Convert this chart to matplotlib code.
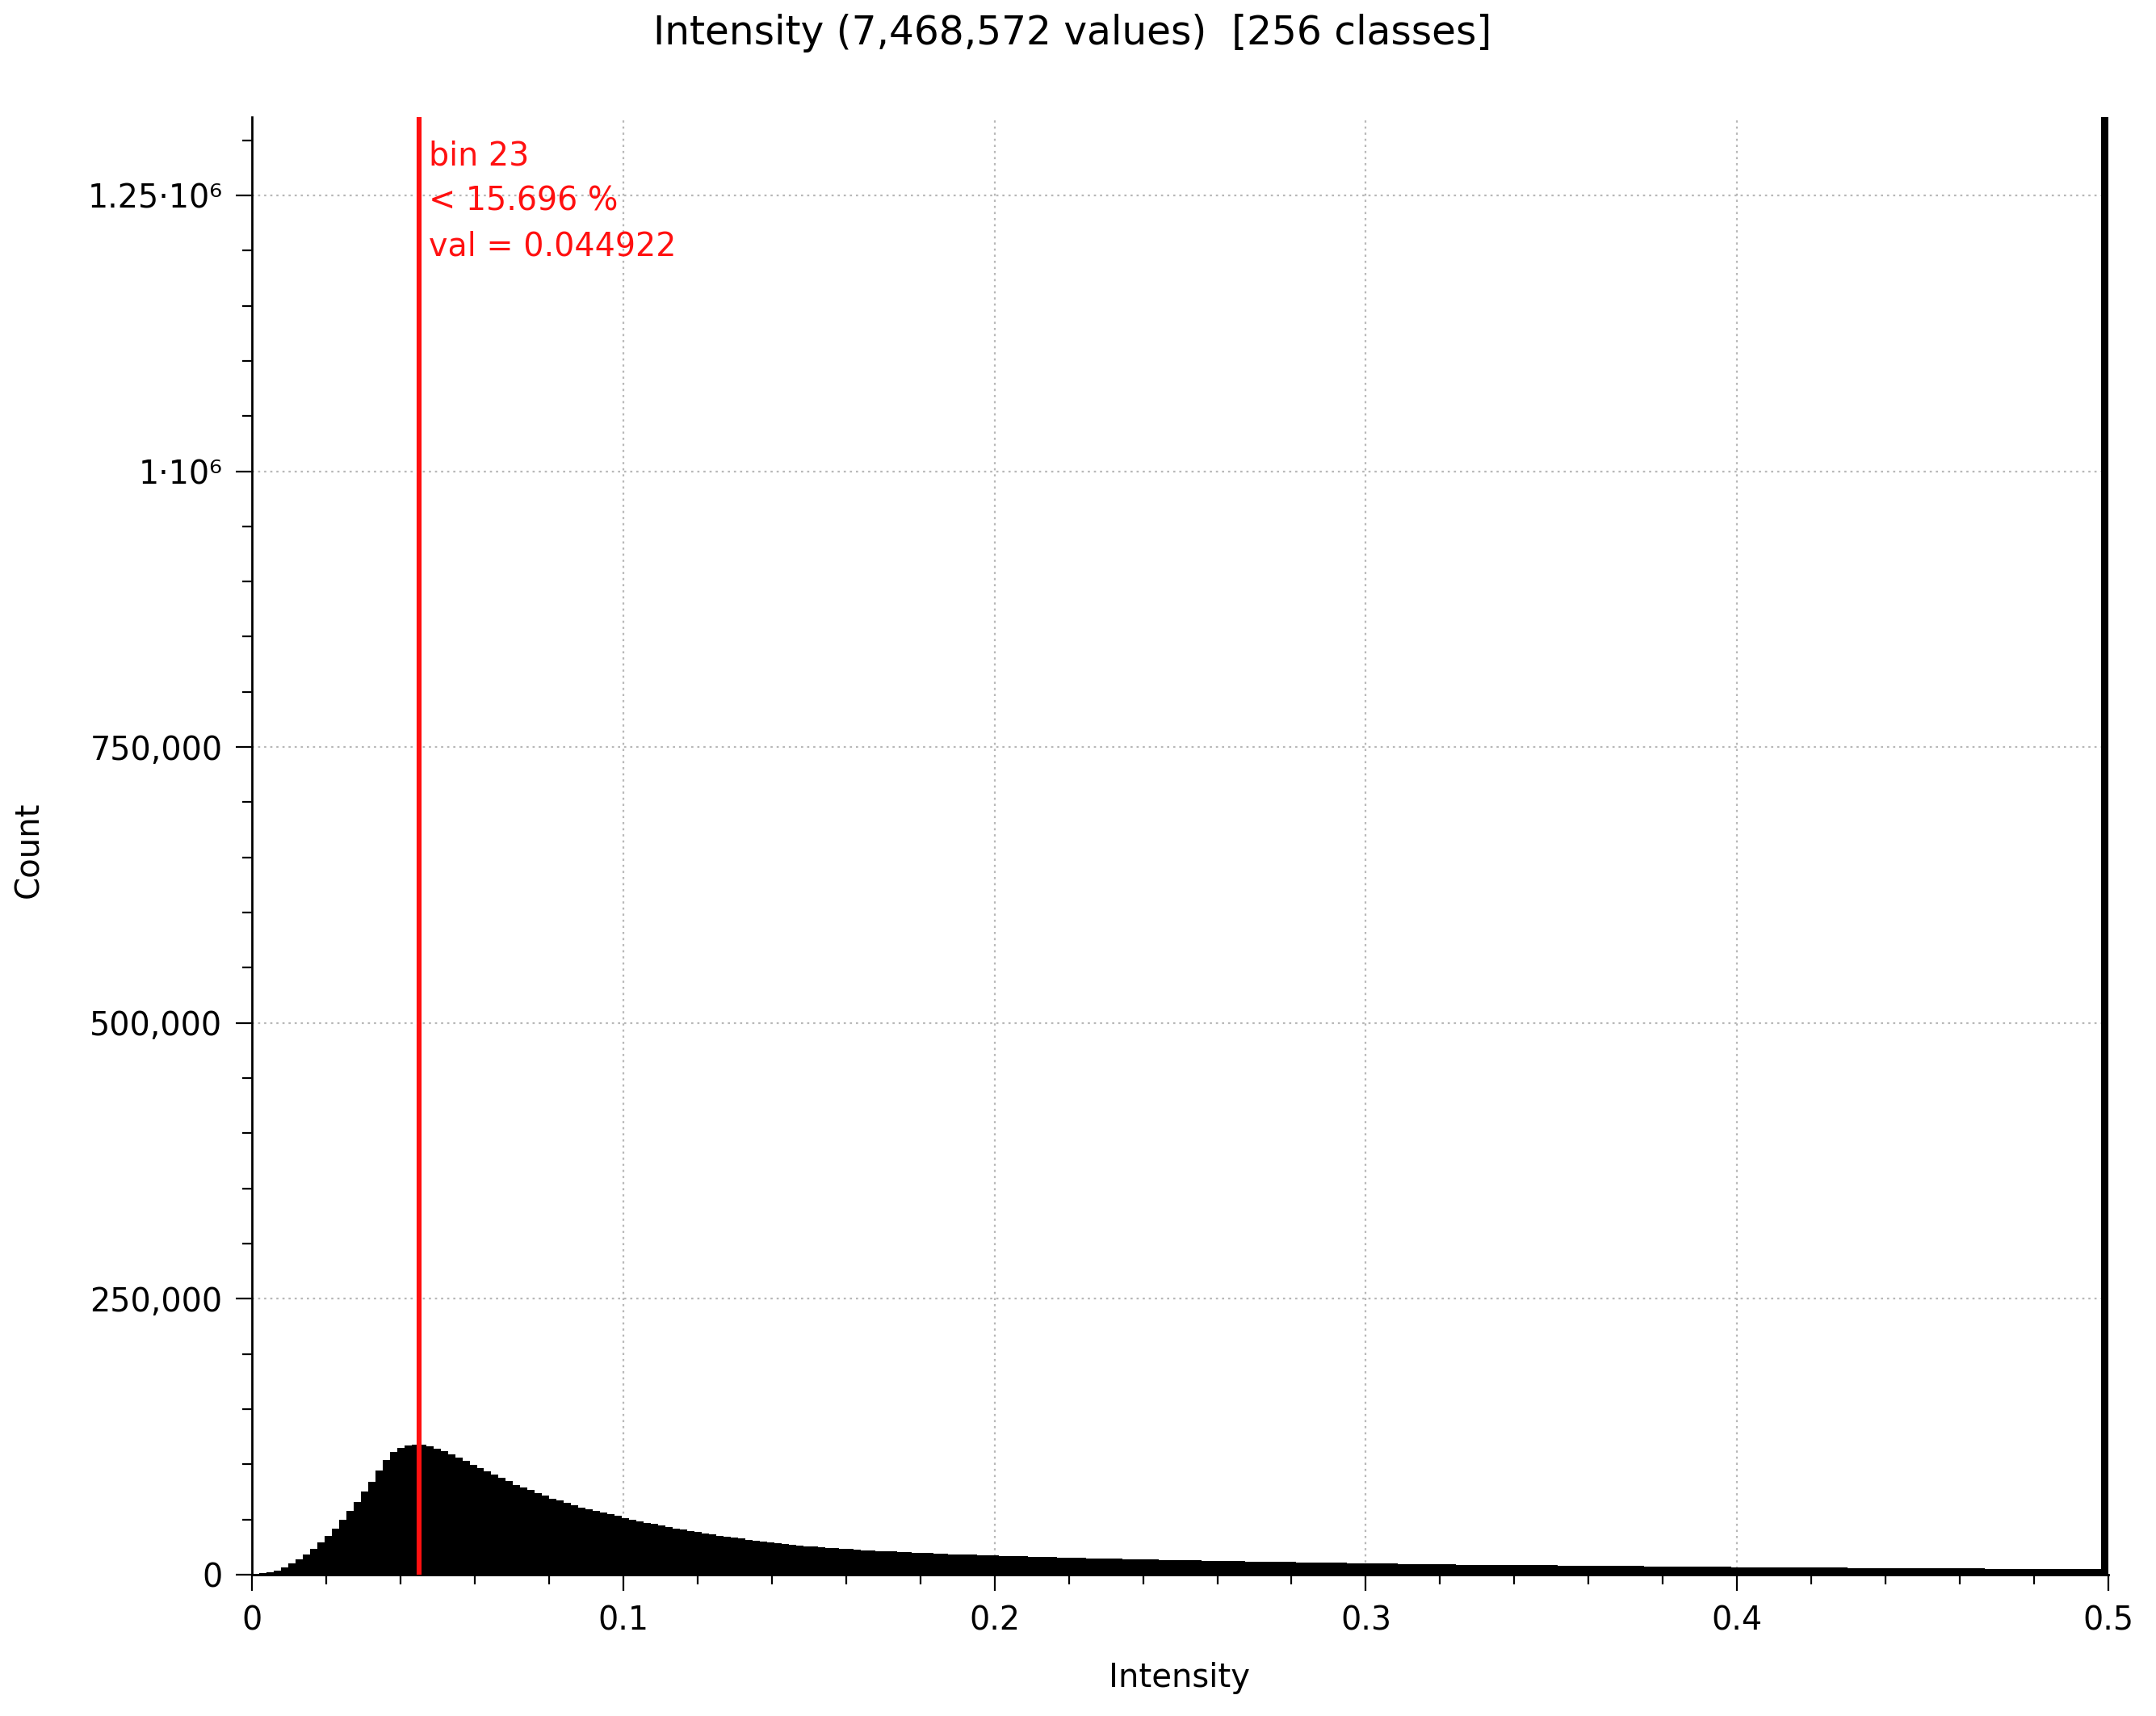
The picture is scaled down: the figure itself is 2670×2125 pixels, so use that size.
import numpy as np
import matplotlib
matplotlib.use("Agg")
import matplotlib.pyplot as plt
from matplotlib.ticker import MultipleLocator, FixedLocator

plt.rcParams['font.family'] = ['DejaVu Sans']

title = "Intensity (7,468,572 values)  [256 classes]"
x_label = "Intensity"
y_label = "Count"
x_min, x_max = 0.0, 0.5
n_bins = 256
marker_value = 0.044922
marker_lines = ["bin 23", "< 15.696 %", "val = 0.044922"]
y_ticks = [0, 250000, 500000, 750000, 1000000, 1250000]
y_tick_labels = ["0", "250,000", "500,000", "750,000", "1\u00b710\u2076", "1.25\u00b710\u2076"]
x_ticks = [0, 0.1, 0.2, 0.3, 0.4, 0.5]
x_tick_labels = ["0", "0.1", "0.2", "0.3", "0.4", "0.5"]

counts = [
    800, 1500, 2300, 3600, 6500, 10000, 14000, 18500, 23500, 29000,
    35000, 42000, 50000, 58000, 66000, 75000, 84000, 94000, 104000, 111000,
    115000, 117000, 118000,
    117500, 116000, 114000, 112000, 109000, 106000, 103000, 99500, 96500, 93500,
    90500, 87500, 84500, 81500, 79000, 76500, 74000, 71500, 69000, 67000,
    65000, 63000, 61000, 59000, 57500,
    56000, 54500, 53000, 51500, 50000, 48500, 47000, 45700, 44400, 43100,
    41900, 40700, 39500, 38400, 37300, 36300, 35300, 34300, 33400, 32500,
    31600, 30800, 30000, 29200, 28500, 27800, 27100, 26400, 25800, 25200,
    24800, 24300, 23800, 23400, 23000, 22600, 22200, 21800, 21500, 21200,
    20900, 20600, 20300, 20000, 19700, 19400, 19100, 18800, 18500, 18300,
    18100, 17900, 17700, 17500, 17300, 17100, 16900, 16700, 16500, 16300,
    16100, 15900, 15700, 15500, 15350, 15200, 15050, 14900, 14750, 14600,
    14450, 14300, 14150, 14000, 13850, 13700, 13550, 13400, 13270, 13140,
    13010, 12880, 12750, 12620, 12500, 12380, 12260, 12150, 12040, 11930,
    11820, 11710, 11600, 11500, 11400, 11300, 11200, 11100, 11000, 10900,
    10800, 10700, 10600, 10500, 10400, 10300, 10200, 10100, 10000, 9900,
    9800, 9700, 9600, 9500, 9400, 9300, 9200,
    9100, 9000, 8950, 8900, 8850, 8800, 8750, 8700, 8650, 8600,
    8550, 8500, 8450, 8400, 8350, 8300, 8240, 8180, 8120, 8060,
    8000, 7940, 7880, 7820, 7760, 7700, 7640, 7580, 7520, 7460,
    7400, 7340, 7280, 7220, 7160, 7100, 7040, 6980, 6920, 6860,
    6800, 6750, 6700, 6650, 6600, 6550, 6500, 6460, 6420, 6380,
    6340, 6300, 6260, 6220, 6180, 6140, 6100, 6060, 6020, 5980,
    5940, 5900, 5860, 5820, 5780, 5740, 5700, 5660, 5620, 5580,
    5540, 5500, 5470, 5440, 5410, 5380, 5350, 5320, 5290, 5260,
    5230, 5200, 5170, 5140, 5110, 5080, 5050, 5020, 4990, 4960,
    1321000,
]

edges = np.linspace(x_min, x_max, n_bins + 1)

fig = plt.figure(figsize=(26.7, 21.25), dpi=100)
ax = fig.add_axes([0.1169, 0.0824, 0.8610, 0.8494])

ax.stairs(counts, edges, fill=True, color='black', linewidth=0, zorder=2)

ax.set_xlim(x_min, x_max)
ax.set_ylim(0, max(counts))

ax.set_axisbelow(True)
ax.grid(True, which='major', color='#b8b8b8', linestyle=(0, (1.2, 2.2)), linewidth=1.6)

ax.axvline(marker_value, color='#ff1010', linewidth=4.4, zorder=4)

offsets = [-49, -105, -161]
for line, dy in zip(marker_lines, offsets):
    ax.annotate(line, xy=(marker_value, 1.0), xycoords=('data', 'axes fraction'),
                xytext=(12 * 0.72, dy * 0.72), textcoords='offset points',
                color='#ff1010', fontsize=28.5, ha='left', va='center', zorder=5)

ax.xaxis.set_major_locator(FixedLocator(x_ticks))
ax.set_xticklabels(x_tick_labels)
ax.xaxis.set_minor_locator(MultipleLocator(0.02))
ax.yaxis.set_major_locator(FixedLocator(y_ticks))
ax.set_yticklabels(y_tick_labels)
ax.yaxis.set_minor_locator(MultipleLocator(50000))

for s in ['top', 'right']:
    ax.spines[s].set_visible(False)
for s in ['left', 'bottom']:
    ax.spines[s].set_linewidth(2.0)
    ax.spines[s].set_color('black')

ax.tick_params(axis='both', which='major', length=14.4, width=1.6, labelsize=28.5, direction='out')
ax.tick_params(axis='both', which='minor', length=8.6, width=1.6, direction='out')
ax.tick_params(axis='x', which='major', pad=13)
ax.tick_params(axis='y', which='major', pad=12)

fig.text(0.4975, 0.9805, title, ha='center', va='center', fontsize=35)
fig.text(0.5472, 0.0221, x_label, ha='center', va='center', fontsize=29)
fig.text(0.0135, 0.505, y_label, ha='center', va='center', fontsize=29, rotation=90)

fig.savefig('out.png', dpi=100)
